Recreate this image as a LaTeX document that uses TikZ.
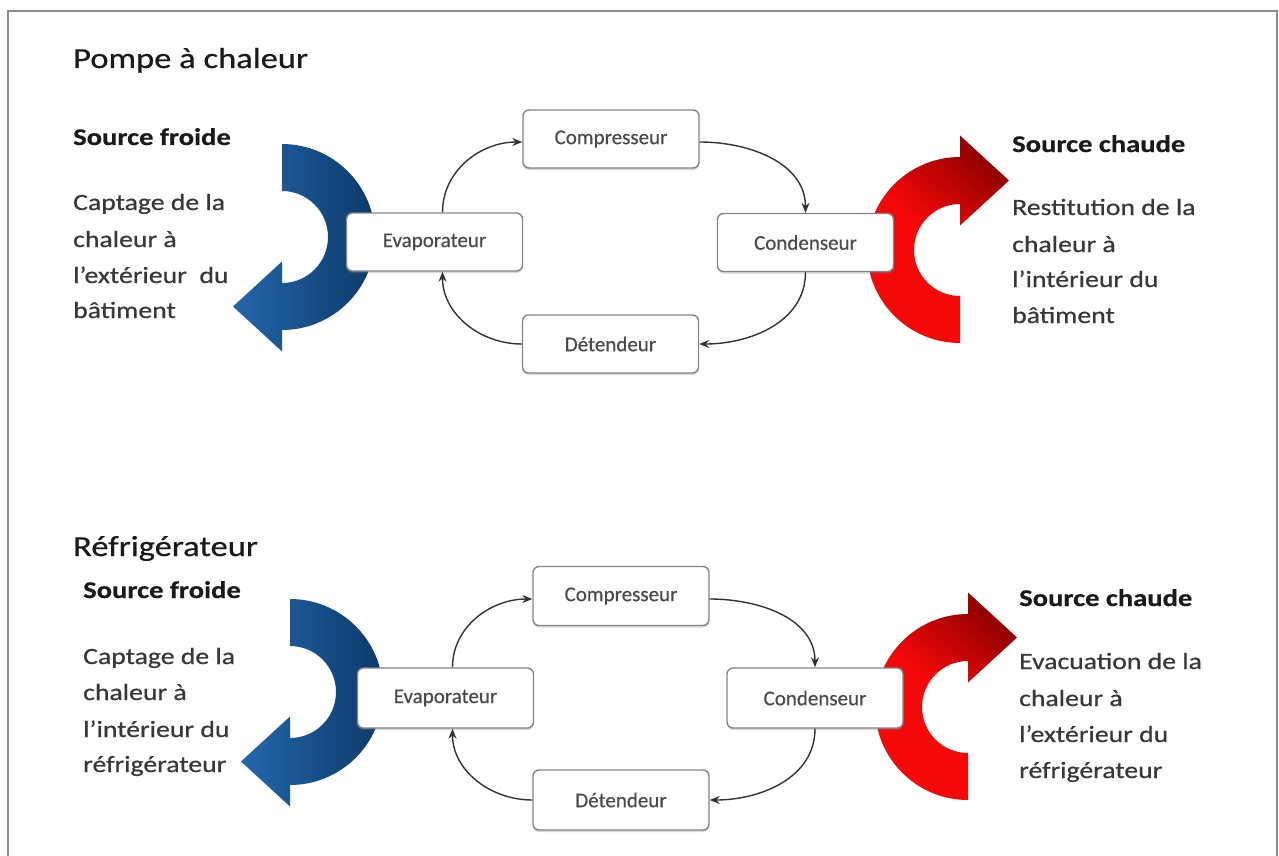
\documentclass[tikz,border=0pt]{standalone}
\usepackage{fontspec}
\setmainfont{Carlito}
\newfontfamily\sidef[FakeStretch=1.19, FakeBold=0.6]{Carlito}
\newfontfamily\boxf[FakeBold=0.4]{Carlito}
\usetikzlibrary{arrows.meta,shadows}
\definecolor{txt}{HTML}{383838}
\definecolor{dark}{HTML}{1A1A1A}
\definecolor{boxtxt}{HTML}{4A4A4A}
\definecolor{boxline}{HTML}{858585}
\definecolor{blueL}{HTML}{2466AB}
\definecolor{blueD}{HTML}{0B3A6A}
\definecolor{redL}{HTML}{F50808}
\definecolor{redD}{HTML}{950000}
\definecolor{framec}{HTML}{8C8C8C}
\newcommand{\coldarrow}[2]{%
  \begin{scope}[shift={(#1,-#2)}]
    \shade[left color=blueL,right color=blueD]
      (0,93) arc[start angle=90,end angle=-90,radius=93]
      -- (0,-114.5) -- (-49,-69.5) -- (0,-24.5) -- (0,-46)
      arc[start angle=-90,end angle=90,radius=46] -- cycle;
  \end{scope}}
\newcommand{\hotarrow}[2]{%
  \begin{scope}[shift={(#1,-#2)}]
    \shade[top color=redD, bottom color=redL, middle color=redL, shading angle=-40]
      (0,-93) arc[start angle=-90,end angle=-270,radius=93]
      -- (0,114.5) -- (49,69.5) -- (0,24.5) -- (0,46)
      arc[start angle=90,end angle=270,radius=46] -- cycle;
  \end{scope}}
\begin{document}
\begin{tikzpicture}[x=1pt,y=1pt,
  box/.style={draw=boxline, line width=1.4pt, rounded corners=6pt, fill=white,
    minimum width=176pt, minimum height=58pt, inner sep=0pt,
    font=\boxf\fontsize{21}{25}\selectfont, text=boxtxt,
    drop shadow={shadow xshift=0pt, shadow yshift=-2pt, opacity=0.3}},
  conn/.style={draw=black!80, line width=1.4pt, -{Stealth[length=10pt,width=8pt]}},
  ttl/.style={anchor=base west, inner sep=0pt, text=dark, font=\sidef\fontsize{29}{34}\selectfont},
  hdr/.style={anchor=base west, inner sep=0pt, text=dark, font=\sidef\bfseries\fontsize{24}{29}\selectfont},
  body/.style={anchor=base west, inner sep=0pt, text=txt, font=\sidef\fontsize{23.3}{28}\selectfont}]
\useasboundingbox (0,0) rectangle (1279,-856);
\draw[framec, line width=2pt] (8,-870) -- (8,-11) -- (1277,-11) -- (1277,-870);

% ---------- Pompe a chaleur ----------
\node[ttl] (t1) at (73,-68) {Pompe à chaleur};
\coldarrow{282}{237}
\hotarrow{960}{250}
\node[box] (comp1) at (611,-139) {Compresseur};
\node[box] (evap1) at (434.5,-242) {Evaporateur};
\node[box] (cond1) at (805.5,-242.5) {Condenseur};
\node[box] (det1) at (610.5,-344) {Détendeur};
\draw[conn] ([xshift=8pt]evap1.north) to[out=90,in=180] ([yshift=-3pt]comp1.west);
\draw[conn] ([yshift=-3pt]comp1.east) to[out=0,in=90] (cond1.north);
\draw[conn] (cond1.south) to[out=-90,in=0] (det1.east);
\draw[conn] (det1.west) to[out=180,in=-90] ([xshift=8pt]evap1.south);

\node[hdr] (sf1) at (73,-145) {Source froide};
\node[body] (sf1a) at (73,-210) {Captage de la};
\node[body] (sf1b) at (73,-247) {chaleur à};
\node[body] (sf1c) at (73,-283) {l’extérieur\ \ du};
\node[body] (sf1d) at (73,-318) {bâtiment};
\node[hdr] (sc1) at (1012,-152) {Source chaude};
\node[body] (sc1a) at (1012,-215) {Restitution de la};
\node[body] (sc1b) at (1012,-252) {chaleur à};
\node[body] (sc1c) at (1012,-287) {l’intérieur du};
\node[body] (sc1d) at (1012,-323) {bâtiment};

% ---------- Refrigerateur ----------
\node[ttl] (t2) at (73,-556) {Réfrigérateur};
\coldarrow{290}{692}
\hotarrow{968}{707}
\node[box, minimum height=59pt] (comp2) at (621,-596) {Compresseur};
\node[box, minimum height=60pt] (evap2) at (445.5,-698) {Evaporateur};
\node[box, minimum height=60pt] (cond2) at (815,-698) {Condenseur};
\node[box, minimum height=60pt] (det2) at (621,-800) {Détendeur};
\draw[conn] ([xshift=7pt]evap2.north) to[out=90,in=180] ([yshift=-3pt]comp2.west);
\draw[conn] ([yshift=-3pt]comp2.east) to[out=0,in=90] (cond2.north);
\draw[conn] (cond2.south) to[out=-90,in=0] (det2.east);
\draw[conn] (det2.west) to[out=180,in=-90] ([xshift=7pt]evap2.south);

\node[hdr] (sf2) at (83,-598) {Source froide};
\node[body] (sf2a) at (83,-664) {Captage de la};
\node[body] (sf2b) at (83,-700) {chaleur à};
\node[body] (sf2c) at (83,-737) {l’intérieur du};
\node[body] (sf2d) at (83,-772) {réfrigérateur};
\node[hdr] (sc2) at (1019,-606) {Source chaude};
\node[body] (sc2a) at (1019,-669) {Evacuation de la};
\node[body] (sc2b) at (1019,-706) {chaleur à};
\node[body] (sc2c) at (1019,-742) {l’extérieur du};
\node[body] (sc2d) at (1019,-778) {réfrigérateur};
\end{tikzpicture}
\end{document}
